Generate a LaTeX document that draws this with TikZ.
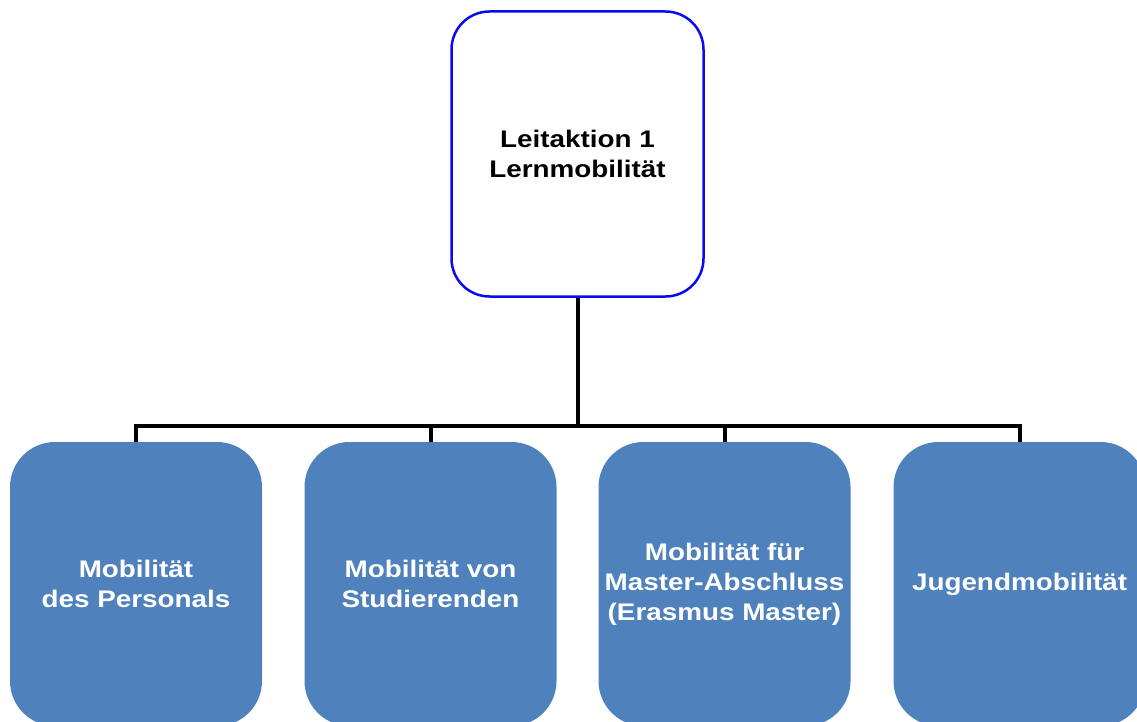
\documentclass[tikz,border=0pt]{standalone}
\usepackage{fontspec}
\setmainfont[FakeStretch=1.16]{Liberation Sans}
\usetikzlibrary{positioning,calc}
\definecolor{boxblue}{HTML}{4F81BD}
\definecolor{topblue}{HTML}{0A0AF0}
\tikzset{
  topbox/.style={draw=topblue, line width=2.5pt, fill=white, rectangle, rounded corners=38pt,
    minimum width=252pt, minimum height=285pt, align=center, inner sep=0pt,
    font=\bfseries\fontsize{24}{30}\selectfont},
  subbox/.style={fill=boxblue, draw=none, rectangle, rounded corners=45pt,
    minimum width=252pt, minimum height=284pt, align=center, inner sep=0pt,
    text=white, font=\bfseries\fontsize{24}{30}\selectfont},
  conn/.style={line width=4pt, draw=black}
}
\begin{document}
\begin{tikzpicture}[x=1pt,y=-1pt]
\useasboundingbox (0,0) rectangle (1137,722);
\clip (0,0) rectangle (1137,722);
\node[topbox] (top) at (577.5,154) {Leitaktion 1\\Lernmobilität};
\node[subbox] (b1) at (136,584) {Mobilität\\des Personals};
\node[subbox] (b2) at (430.5,584) {Mobilität von\\Studierenden};
\node[subbox] (b3) at (724.5,584) {Mobilität für\\Master-Abschluss\\(Erasmus Master)};
\node[subbox] (b4) at (1019.5,584) {Jugendmobilität};
\coordinate (bus) at (577,426);
\draw[conn] (top.south) -- (top.south |- bus);
\draw[conn] (b1.north) |- (b4.north |- bus) -- (b4.north);
\draw[conn] (b2.north) -- (b2.north |- bus);
\draw[conn] (b3.north) -- (b3.north |- bus);
\end{tikzpicture}
\end{document}
